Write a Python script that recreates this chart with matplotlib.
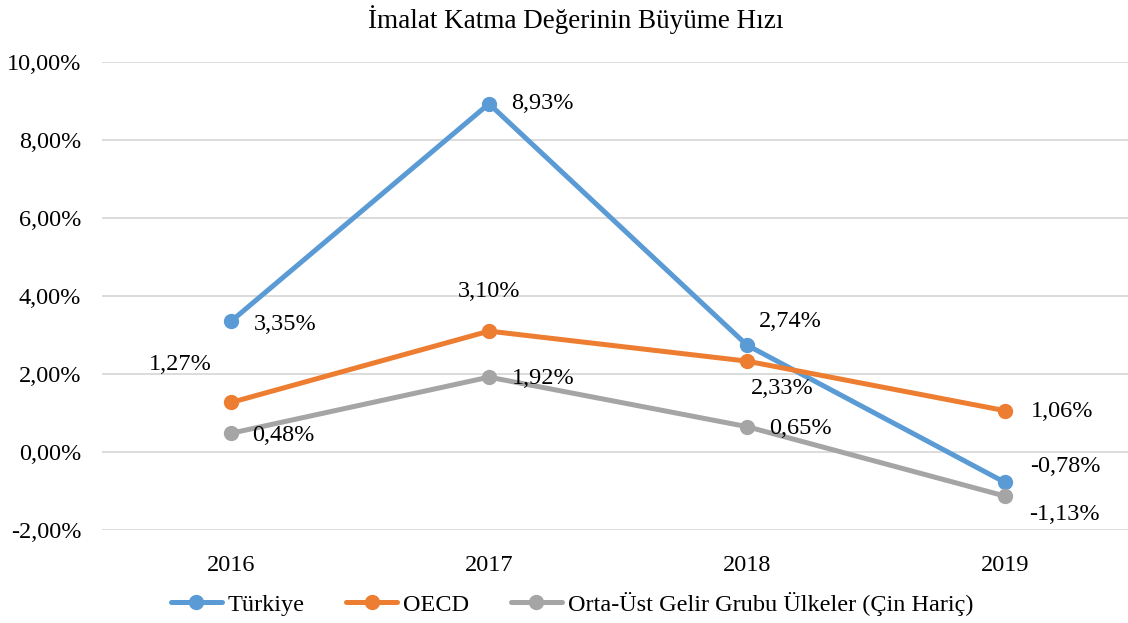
import matplotlib
matplotlib.use("Agg")
import matplotlib.pyplot as plt
from matplotlib.ticker import FuncFormatter

plt.rcParams['font.family'] = ['Liberation Serif', 'DejaVu Serif']

years = ['2016', '2017', '2018', '2019']
turkiye = [3.35, 8.93, 2.74, -0.78]
oecd = [1.27, 3.10, 2.33, 1.06]
orta_ust = [0.48, 1.92, 0.65, -1.13]

series = [
    ('Türkiye', turkiye, '#5B9BD5', [(54, -3), (53, 0), (43, 24), (60, 16)]),
    ('OECD', oecd, '#ED7D31', [(-51, 38), (0, 40), (35, -27), (57, -1)]),
    ('Orta-Üst Gelir Grubu Ülkeler (Çin Hariç)', orta_ust, '#A5A5A5',
     [(52, -2), (54, -1), (53, -2), (59, -18)]),
]

FS = 17.5
W, H = 1128, 623
fig = plt.figure(figsize=(W / 100, H / 100), dpi=100)
ax = fig.add_axes([102 / W, 1 - 530 / H, (1134 - 102) / W, (530 - 62) / H])

x = list(range(len(years)))
for name, vals, col, offs in series:
    ax.plot(x, vals, color=col, lw=3.6, marker='o', ms=10, label=name,
            solid_capstyle='round', zorder=3)
    for xi, v, (dx, dy) in zip(x, vals, offs):
        lbl = '{:.2f}%'.format(v).replace('.', ',')
        ax.annotate(lbl, (xi, v), xytext=(dx, dy), textcoords='offset pixels',
                    ha='center', va='center', fontsize=FS, color='#000000', zorder=4)

ax.set_xlim(-0.5, 3.5)
ax.set_ylim(-2, 10)
ax.set_yticks([-2, 0, 2, 4, 6, 8, 10])
ax.yaxis.set_major_formatter(FuncFormatter(lambda v, p: '{:.2f}%'.format(v).replace('.', ',')))
ax.set_xticks(x)
ax.set_xticklabels(years)
ax.grid(axis='y', color='#D9D9D9', lw=1.3)
ax.set_axisbelow(True)
for s in ax.spines.values():
    s.set_visible(False)
ax.tick_params(axis='both', length=0, labelsize=FS)
ax.tick_params(axis='y', pad=15)
ax.tick_params(axis='x', pad=18)

fig.text(576 / W, 1 - 20 / H, 'İmalat Katma Değerinin Büyüme Hızı', ha='center', va='center',
         fontsize=19.5)

fig.legend(loc='center', bbox_to_anchor=(572 / W, 1 - 604 / H), ncol=3, frameon=False,
           fontsize=FS, handlelength=2.1, columnspacing=1.7, handletextpad=0.25)

fig.savefig('out.png', dpi=100)
